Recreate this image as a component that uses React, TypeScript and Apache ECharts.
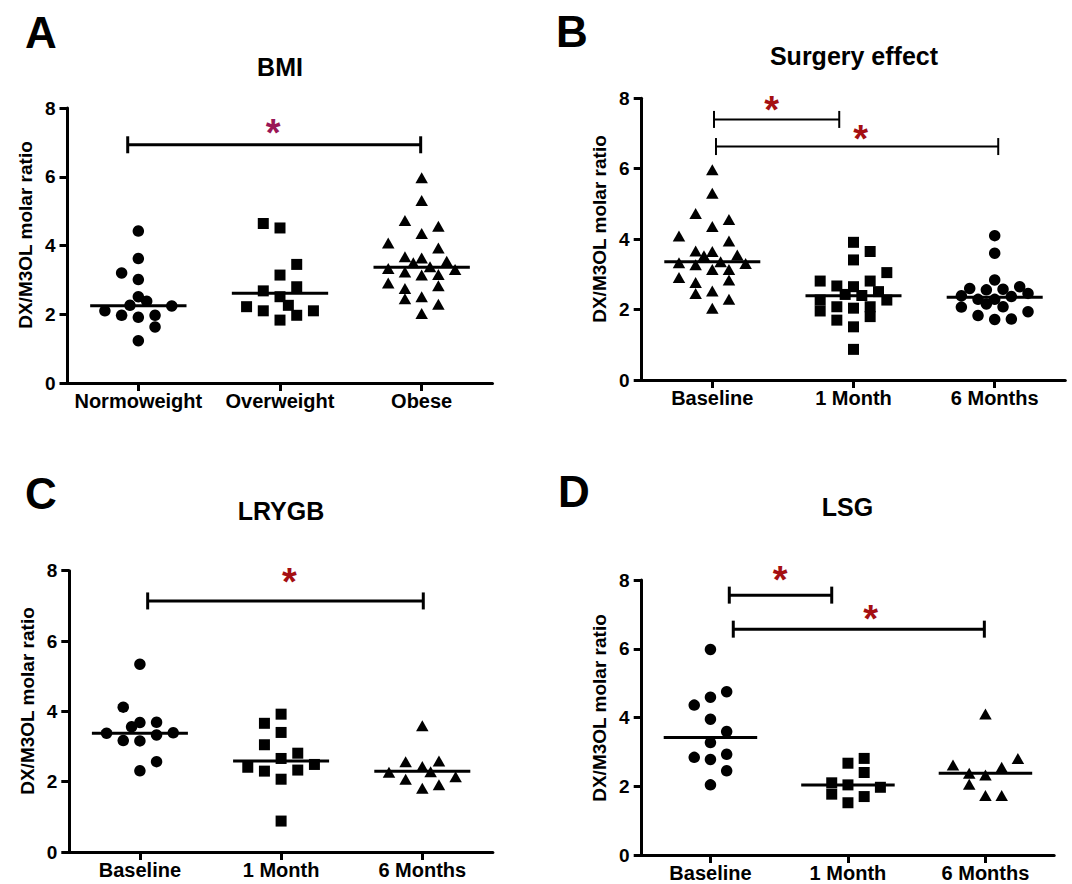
import React, { useEffect, useRef } from "react";
import * as echarts from "echarts";

const FONT = "'Liberation Sans', Arial, Helvetica, sans-serif";

// ---------- categories ----------
const catsBMI = ["Normoweight", "Overweight", "Obese"];
const catsTime = ["Baseline", "1 Month", "6 Months"];
const yMin = 0;
const yMax = 8;
const yInterval = 2;

// ---------- Panel A : BMI ----------
const aNormoValues = [4.42, 3.62, 3.2, 3.01, 2.51, 2.38, 2.26, 2.24, 2.1, 1.97, 1.91, 1.97, 1.63, 1.23];
const aNormoSlots = [0, 0, -1, 0, 0, 0.5, -0.5, 2, -2, -1, 0, 1, 1, 0];
const aOverValues = [4.64, 4.51, 3.45, 3.14, 2.8, 2.68, 2.51, 2.26, 2.22, 2.1, 2.1, 1.97, 1.83];
const aOverSlots = [-1, 0, 1, 0, 1, -1, 0, 0.5, -2, -1, 2, 1, 0];
const aObeseValues = [5.97, 5.31, 4.73, 4.56, 4.35, 4.07, 3.93, 3.67, 3.64, 3.5, 3.54, 3.38, 3.33, 3.3, 3.23, 3.14, 3.16, 2.91, 2.75, 2.83, 2.45, 2.51, 2.29, 2.02];
const aObeseSlots = [0, 0, -1, 1, 0, -2, 1, -1, 0, -0.5, 1.5, 0.5, -2, 2, -1, 0, 1, -2, -1, 1, -1, 0, 1, 0];
const aMedians = [2.25, 2.61, 3.37];
// [x1, x2, y, starX, starY]
const aBrackets = [[-0.075, 1.993, 6.93, 0.952, 7.54]];

// ---------- Panel B : Surgery effect ----------
const bBaseValues = [5.97, 5.3, 4.73, 4.56, 4.36, 4.09, 3.95, 3.66, 3.65, 3.53, 3.55, 3.36, 3.33, 3.31, 3.27, 3.14, 3.14, 2.91, 2.77, 2.84, 2.46, 2.53, 2.29, 2.04];
const bBaseSlots = [0, 0, -1, 1, 0, -2, 1, -1, 0, -0.5, 1.5, 0.5, -2, 2, -1, 0, 1, -2, -1, 1, -1, 0, 1, 0];
const b1MValues = [3.91, 3.65, 3.41, 3.05, 2.81, 2.81, 2.67, 2.65, 2.51, 2.43, 2.4, 2.27, 2.27, 2.08, 2.04, 2.08, 1.96, 1.8, 1.7, 1.51, 0.87];
const b1MSlots = [0, 1, 0, 2, -2, 1, -1, 0, 1.5, -0.5, 0.5, -2, 2, -1, 0, 1, -2, 1, -1, 0, 0];
const b6MValues = [4.1, 3.6, 2.84, 2.6, 2.65, 2.56, 2.58, 2.46, 2.39, 2.37, 2.29, 2.29, 2.16, 2.07, 2.08, 1.94, 1.83, 1.72, 1.73];
const b6MSlots = [0, 0, 0, -1.5, 1.5, -0.5, 0.5, 2, -2, 1, -1, 0, -0.5, -2, 0.5, 2, -1, 0, 1];
const bMedians = [3.36, 2.39, 2.35];
const bBrackets = [
  [0.012, 0.899, 7.4, 0.421, 7.91],
  [0.026, 2.025, 6.63, 1.051, 7.1],
];

// ---------- Panel C : LRYGB ----------
const cBaseValues = [5.34, 4.12, 3.68, 3.69, 3.56, 3.38, 3.33, 3.39, 3.17, 3.16, 2.57, 2.31];
const cBaseSlots = [0, -1, 0, 1, -0.5, -2, 1, 2, -1, 0, 1, 0];
const c1MValues = [3.92, 3.66, 3.4, 3.05, 2.81, 2.66, 2.49, 2.41, 2.3, 2.33, 2.07, 0.88];
const c1MSlots = [0, -1, 0, -1, 1, 0, 2, -2, -1, 1, 0, 0];
const c6MValues = [3.59, 2.57, 2.59, 2.43, 2.27, 2.28, 2.07, 2.14, 1.81, 1.91];
const c6MSlots = [0, -1, 1, 0, -2, 0.5, -1, 2, 0, 1];
const cMedians = [3.38, 2.59, 2.3];
const cBrackets = [[0.055, 2.007, 7.14, 1.058, 7.93]];

// ---------- Panel D : LSG ----------
const dBaseValues = [5.98, 4.75, 4.59, 4.36, 3.95, 3.59, 3.27, 2.84, 2.93, 2.78, 2.45, 2.04];
const dBaseSlots = [0, 1, 0, -1, 0, 1, 0, -1, 1, 0, 1, 0];
const d1MValues = [2.81, 2.67, 2.4, 2.1, 2.04, 1.97, 1.77, 1.7, 1.52];
const d1MSlots = [1, 0, 1, -1, 0, 2, -1, 1, 0];
const d6MValues = [4.1, 2.81, 2.62, 2.55, 2.38, 2.33, 2.06, 1.73, 1.73];
const d6MSlots = [0, 2, -2, 1, -1, 0, -1, 0, 1];
const dMedians = [3.42, 2.04, 2.38];
const dBrackets = [
  [0.137, 0.882, 7.56, 0.506, 8.24],
  [0.166, 1.992, 6.57, 1.165, 7.11],
];

const Y_NAME = "DX/M3OL molar ratio";

// ---------- layout / style (not data) ----------
const SLOT = 0.118;
const MEDIAN_HALF = 0.34;
const STAR_FS = 38;
const AXIS_W = 3;

const panels = [
  {
    letter: "A", title: "BMI", cats: catsBMI,
    groups: [
      { values: aNormoValues, slots: aNormoSlots, symbol: "circle" },
      { values: aOverValues, slots: aOverSlots, symbol: "rect" },
      { values: aObeseValues, slots: aObeseSlots, symbol: "triangle" },
    ],
    medians: aMedians, brackets: aBrackets, starColor: "#9a1657", bracketWidth: 3,
    grid: { left: 67.5, top: 108, width: 425, height: 275 },
    letterPos: [41, 32.5], titlePos: [280, 66.7], namePos: [25, 235],
  },
  {
    letter: "B", title: "Surgery effect", cats: catsTime,
    groups: [
      { values: bBaseValues, slots: bBaseSlots, symbol: "triangle" },
      { values: b1MValues, slots: b1MSlots, symbol: "rect" },
      { values: b6MValues, slots: b6MSlots, symbol: "circle" },
    ],
    medians: bMedians, brackets: bBrackets, starColor: "#a50f12", bracketWidth: 2,
    grid: { left: 641.7, top: 98.3, width: 423.6, height: 281.7 },
    letterPos: [572, 31], titlePos: [854, 55.5], namePos: [599, 229],
  },
  {
    letter: "C", title: "LRYGB", cats: catsTime,
    groups: [
      { values: cBaseValues, slots: cBaseSlots, symbol: "circle" },
      { values: c1MValues, slots: c1MSlots, symbol: "rect" },
      { values: c6MValues, slots: c6MSlots, symbol: "triangle" },
    ],
    medians: cMedians, brackets: cBrackets, starColor: "#a50f12", bracketWidth: 3,
    grid: { left: 69.3, top: 570.7, width: 423.6, height: 281.3 },
    letterPos: [41, 493], titlePos: [281, 511], namePos: [27, 701],
  },
  {
    letter: "D", title: "LSG", cats: catsTime,
    groups: [
      { values: dBaseValues, slots: dBaseSlots, symbol: "circle" },
      { values: d1MValues, slots: d1MSlots, symbol: "rect" },
      { values: d6MValues, slots: d6MSlots, symbol: "triangle" },
    ],
    medians: dMedians, brackets: dBrackets, starColor: "#a50f12", bracketWidth: 3,
    grid: { left: 641.7, top: 580, width: 412.5, height: 275 },
    letterPos: [574, 491.7], titlePos: [847.5, 506.7], namePos: [599, 708],
  },
];

function symbolSizeFor(symbol: string): any {
  if (symbol === "circle") return 11.5;
  if (symbol === "rect") return 11;
  return [12.5, 11];
}

function buildOption() {
  const grid: any[] = [];
  const xAxis: any[] = [];
  const yAxis: any[] = [];
  const series: any[] = [];
  const graphic: any[] = [];

  panels.forEach((p, i) => {
    grid.push({ ...p.grid, containLabel: false });
    // visible category axis (ticks + labels)
    xAxis.push({
      type: "category",
      gridIndex: i,
      data: p.cats,
      boundaryGap: true,
      axisLine: { show: true, onZero: false, lineStyle: { color: "#000", width: AXIS_W } },
      axisTick: { show: true, alignWithLabel: true, length: 8, lineStyle: { color: "#000", width: AXIS_W } },
      axisLabel: { color: "#000", fontSize: 20, fontWeight: "bold", fontFamily: FONT, margin: 8, interval: 0 },
      splitLine: { show: false },
    });
    // hidden value axis for data placement
    xAxis.push({
      type: "value",
      gridIndex: i,
      min: -0.5,
      max: 2.5,
      show: false,
      splitLine: { show: false },
    });
    yAxis.push({
      type: "value",
      gridIndex: i,
      min: yMin,
      max: yMax,
      interval: yInterval,
      axisLine: { show: true, onZero: false, lineStyle: { color: "#000", width: AXIS_W } },
      axisTick: { show: true, length: 8, lineStyle: { color: "#000", width: AXIS_W } },
      axisLabel: { color: "#000", fontSize: 19, fontWeight: "bold", fontFamily: FONT, margin: 12 },
      splitLine: { show: false },
    });

    const valueAxisIndex = i * 2 + 1;

    p.groups.forEach((g, gi) => {
      series.push({
        type: "scatter",
        xAxisIndex: valueAxisIndex,
        yAxisIndex: i,
        symbol: g.symbol,
        symbolSize: symbolSizeFor(g.symbol),
        itemStyle: { color: "#000", opacity: 1 },
        emphasis: { disabled: true },
        z: 2,
        data: g.values.map((v, k) => [gi + g.slots[k] * SLOT, v]),
      });
    });

    series.push({
      type: "custom",
      xAxisIndex: valueAxisIndex,
      yAxisIndex: i,
      z: 3,
      silent: true,
      data: p.medians.map((m, k) => [k, m]),
      renderItem: (params: any, api: any) => {
        const x = api.value(0);
        const y = api.value(1);
        const a = api.coord([x - MEDIAN_HALF, y]);
        const b = api.coord([x + MEDIAN_HALF, y]);
        return {
          type: "line",
          shape: { x1: a[0], y1: a[1], x2: b[0], y2: b[1] },
          style: { stroke: "#000", lineWidth: 3 },
        };
      },
    });

    const bw = p.bracketWidth;
    const col = p.starColor;
    series.push({
      type: "custom",
      xAxisIndex: valueAxisIndex,
      yAxisIndex: i,
      z: 3,
      silent: true,
      clip: false,
      encode: { x: [0, 1, 3], y: [2, 4] },
      data: p.brackets,
      renderItem: (params: any, api: any) => {
        const x1 = api.value(0);
        const x2 = api.value(1);
        const y = api.value(2);
        const sx = api.value(3);
        const sy = api.value(4);
        const a = api.coord([x1, y]);
        const b = api.coord([x2, y]);
        const s = api.coord([sx, sy]);
        const h = 8.5;
        const st = { stroke: "#000", lineWidth: bw };
        return {
          type: "group",
          children: [
            { type: "line", shape: { x1: a[0], y1: a[1], x2: b[0], y2: b[1] }, style: st },
            { type: "line", shape: { x1: a[0], y1: a[1] - h, x2: a[0], y2: a[1] + h }, style: st },
            { type: "line", shape: { x1: b[0], y1: b[1] - h, x2: b[0], y2: b[1] + h }, style: st },
            {
              type: "text",
              x: s[0],
              y: s[1] + STAR_FS * 0.23,
              style: {
                text: "*",
                fill: col,
                fontSize: STAR_FS,
                fontWeight: "bold",
                fontFamily: FONT,
                align: "center",
                verticalAlign: "middle",
              },
            },
          ],
        };
      },
    });

    graphic.push({
      type: "text",
      x: p.letterPos[0],
      y: p.letterPos[1],
      style: { text: p.letter, fill: "#000", fontSize: 44, fontWeight: "bold", fontFamily: FONT, align: "center", verticalAlign: "middle" },
    });
    graphic.push({
      type: "text",
      x: p.titlePos[0],
      y: p.titlePos[1],
      style: { text: p.title, fill: "#000", fontSize: 25, fontWeight: "bold", fontFamily: FONT, align: "center", verticalAlign: "middle" },
    });
    graphic.push({
      type: "text",
      x: p.namePos[0],
      y: p.namePos[1],
      rotation: Math.PI / 2,
      style: { text: Y_NAME, fill: "#000", fontSize: 19, fontWeight: "bold", fontFamily: FONT, align: "center", verticalAlign: "middle" },
    });
  });

  return {
    animation: false,
    backgroundColor: "#fff",
    grid,
    xAxis,
    yAxis,
    series,
    graphic,
  };
}

export default function App() {
  const ref = useRef<HTMLDivElement>(null);
  useEffect(() => {
    document.body.style.margin = "0";
    if (!ref.current) return;
    const chart = echarts.init(ref.current, undefined, { renderer: "svg" });
    chart.setOption(buildOption() as any);
    return () => {
      chart.dispose();
    };
  }, []);
  return <div ref={ref} style={{ width: 1072, height: 884 }} />;
}
